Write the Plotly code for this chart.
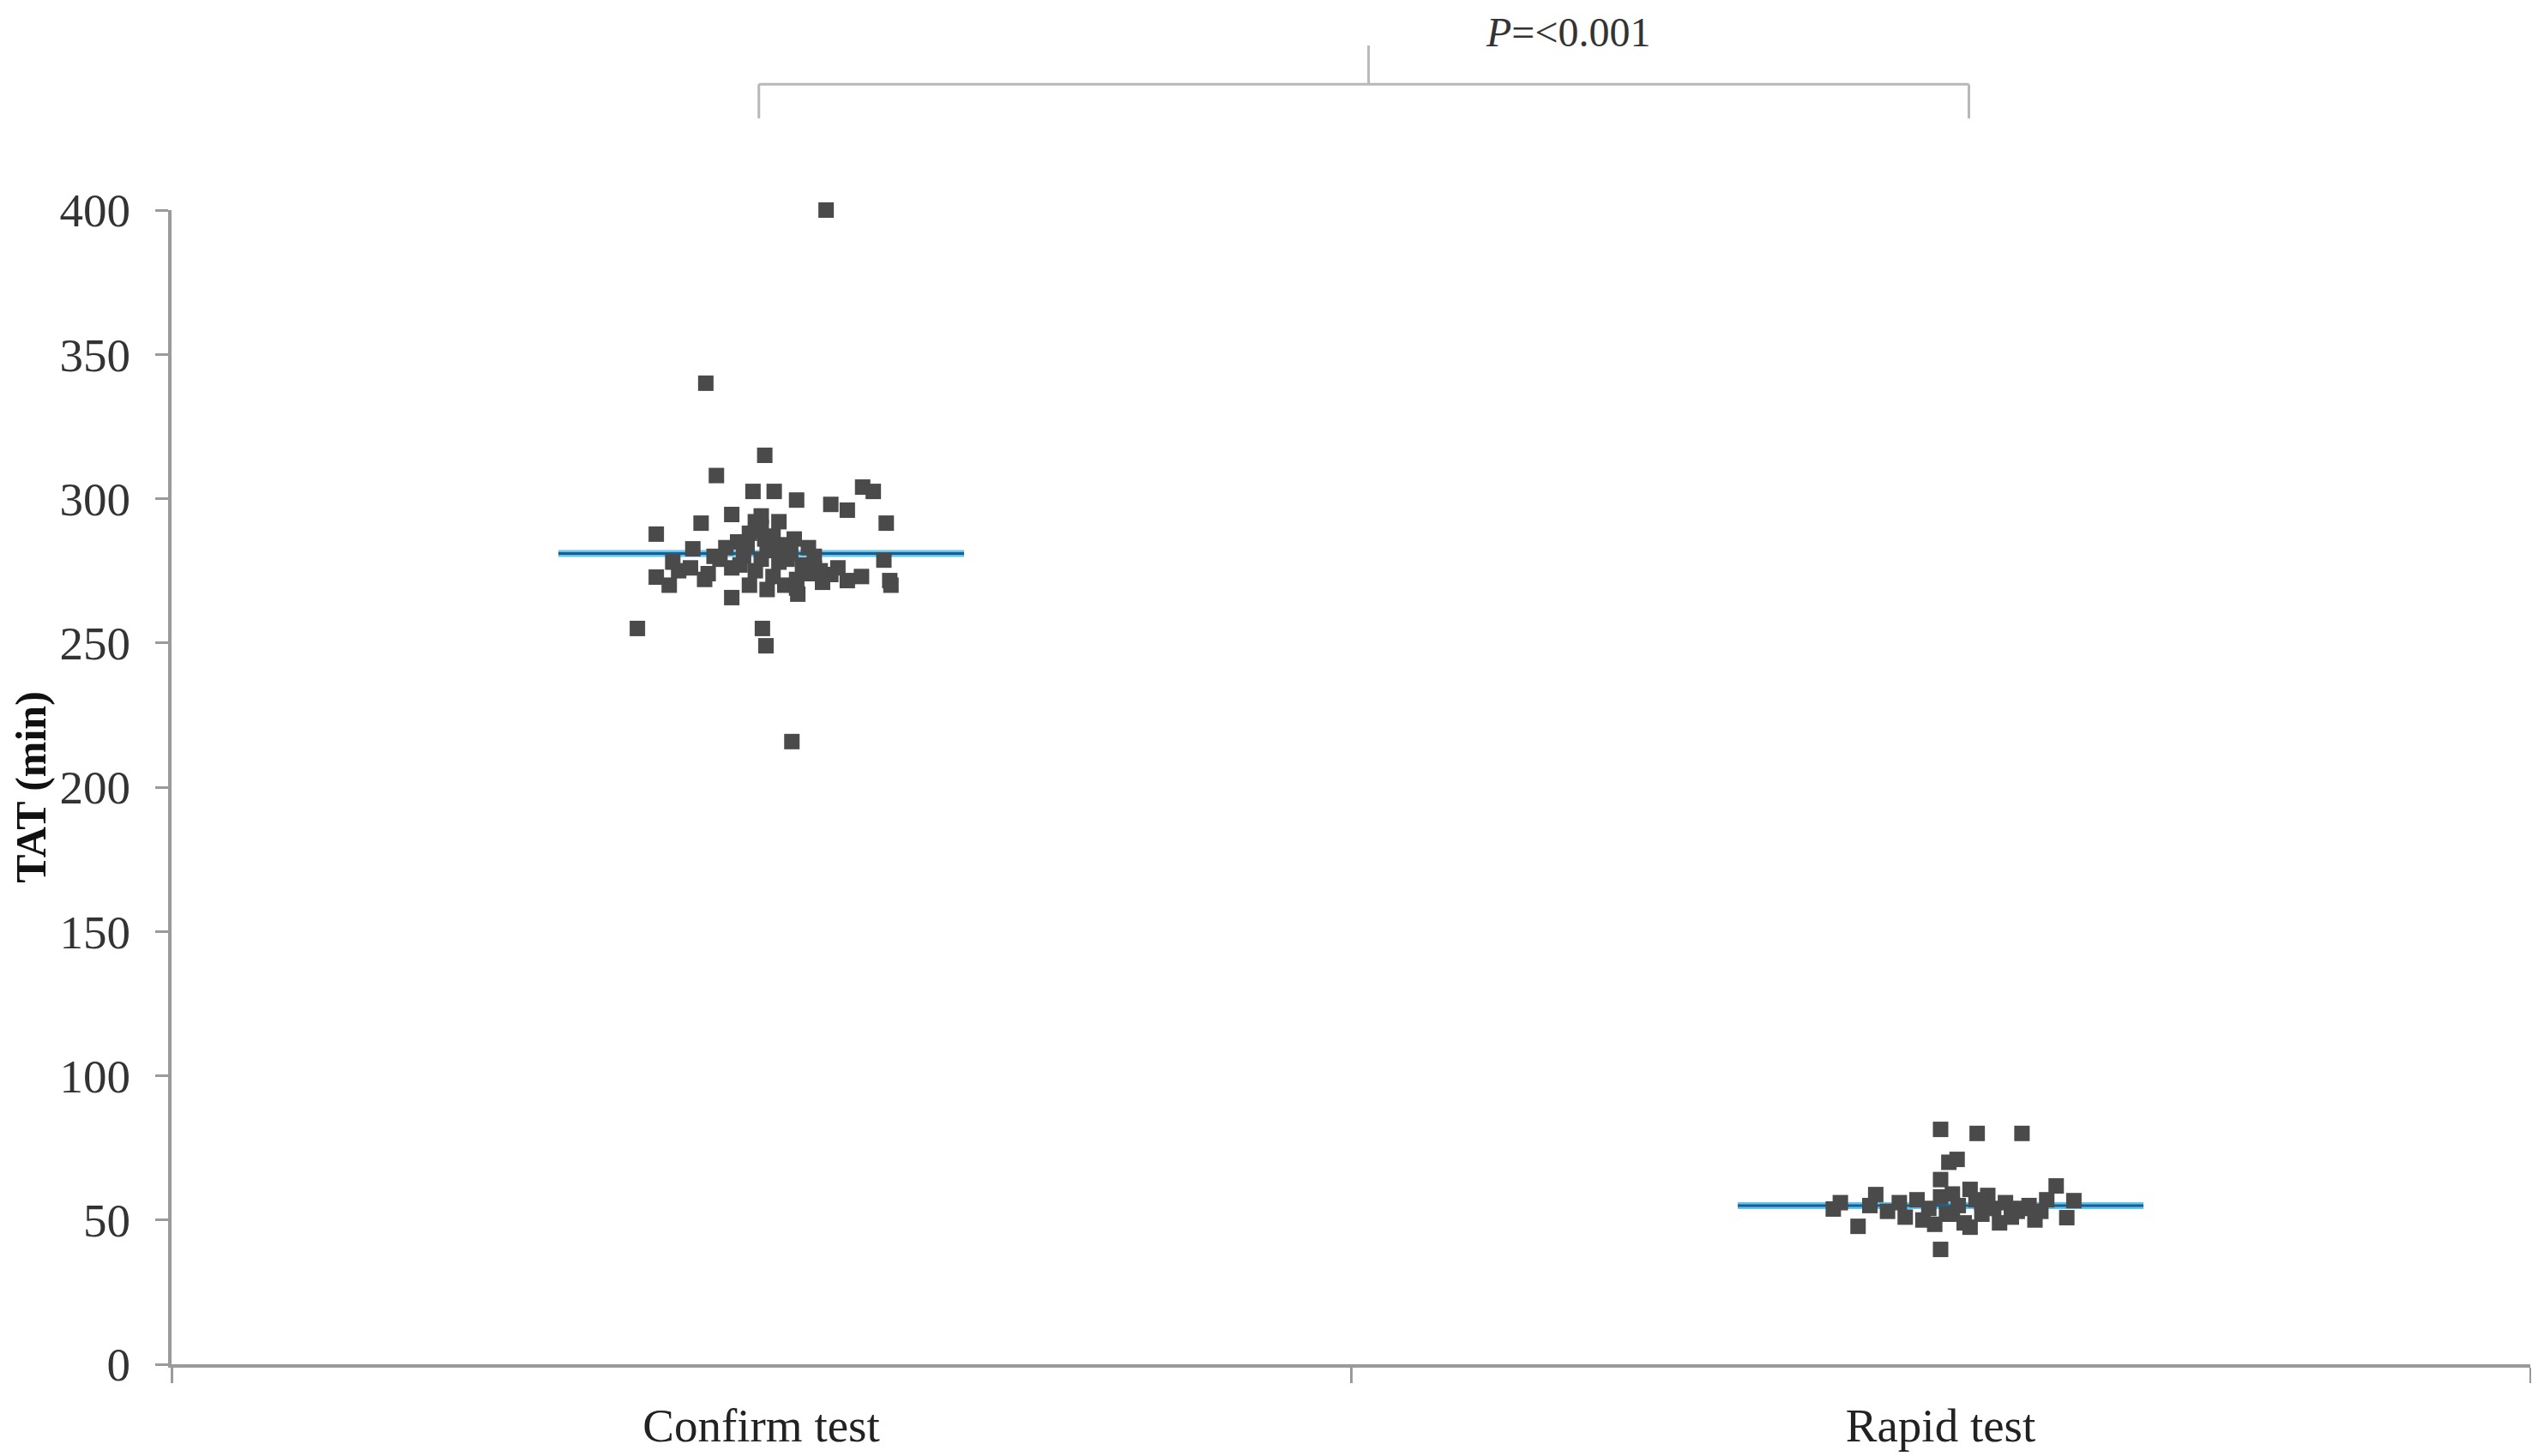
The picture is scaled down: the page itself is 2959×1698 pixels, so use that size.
import plotly.graph_objects as go

# ---------------- data ----------------
categories = ["Confirm test", "Rapid test"]

confirm_tat = [400, 340, 315, 308, 302.5, 302.5, 299.5, 304, 302.5, 298, 296, 294.5,
               291.5, 291.5, 287.7, 294,
               282.6, 278, 276, 272.8, 275, 274, 279,
               265.7, 266.9, 273.7, 271.6, 278.7, 271.6, 273, 276, 255, 255, 249, 215.8,
               270, 270,
               285, 288, 290, 287, 284, 280, 282, 278, 281, 277, 276, 275, 273, 270, 272,
               270, 279, 283, 283, 268.5, 292, 292, 280, 275, 280, 286, 289, 283, 277,
               274, 271, 269, 276, 284, 279, 272, 286]
confirm_jitter = [0.055, -0.047, 0.003, -0.038, -0.007, 0.011, 0.030, 0.086, 0.095, 0.059, 0.073, -0.025,
                  -0.051, 0.106, -0.089, 0.000,
                  -0.058, -0.075, -0.060, -0.089, -0.070, -0.045, -0.035,
                  -0.025, 0.031, 0.059, 0.073, 0.104, 0.109, 0.085, 0.045, -0.105, 0.001, 0.004, 0.026,
                  -0.078, 0.110,
                  -0.020, -0.010, 0.000, 0.010, 0.020, -0.015, 0.005, 0.015, 0.025, 0.035, -0.025, -0.005, 0.010, 0.020, 0.030,
                  -0.010, 0.000, 0.040, -0.030, 0.005, 0.015, -0.005, 0.045, 0.050, -0.040, 0.003, -0.002, 0.012, -0.018,
                  0.040, 0.052, 0.030, 0.065, -0.012, 0.022, -0.048, 0.028]

rapid_tat = [81.4, 80, 80, 71, 70, 64, 60.6, 61.8, 39.8, 53.8, 47.8, 58.8, 50.8, 56.7, 56, 53, 56, 51,
             57, 54, 58, 52, 55, 49, 57, 52, 54, 49, 56, 51, 53, 55, 53, 50, 48.5, 59, 47.5, 58.5, 57, 50,
             55, 52, 56, 54]
rapid_jitter = [0.000, 0.031, 0.069, 0.014, 0.007, 0.000, 0.025, 0.098, 0.000, -0.091, -0.070, -0.055, 0.107, 0.113,
                -0.085, -0.045, -0.035, -0.030,
                -0.020, -0.010, 0.000, 0.005, 0.015, 0.020, 0.030, 0.035, 0.045, 0.050, 0.055, 0.060, 0.065, 0.075,
                0.085, -0.015, -0.005, 0.010, 0.025, 0.040, 0.090, 0.080, -0.060, 0.010, 0.035, 0.068]

group_means = [281, 55]
y_ticks = [0, 50, 100, 150, 200, 250, 300, 350, 400]
p_label = "<i>P</i>=&lt;0.001"
y_title = "<b>TAT (min)</b>"

# ---------------- styles ----------------
SERIF = "Liberation Serif, Times New Roman, serif"
AXIS_GRAY = "#9a9a9a"
MARKER_GRAY = "#4a4a4a"
HALF = 0.172

fig = go.Figure()

# dummy trace registering categories on the category axis
fig.add_trace(go.Scatter(x=categories, y=[None, None], mode="markers",
                         showlegend=False, hoverinfo="skip", xaxis="x", yaxis="y"))

# mean lines
for i, m in enumerate(group_means):
    fig.add_trace(go.Scatter(x=[i - HALF, i + HALF], y=[m, m], mode="lines",
                             line=dict(color="#62c4f0", width=8),
                             showlegend=False, hoverinfo="skip", xaxis="x2", yaxis="y"))
    fig.add_trace(go.Scatter(x=[i - HALF, i + HALF], y=[m, m], mode="lines",
                             line=dict(color="#1b5e8c", width=3),
                             showlegend=False, hoverinfo="skip", xaxis="x2", yaxis="y"))

# points
for i, (vals, jit) in enumerate([(confirm_tat, confirm_jitter), (rapid_tat, rapid_jitter)]):
    fig.add_trace(go.Scatter(x=[i + j for j in jit], y=vals, mode="markers",
                             marker=dict(symbol="square", size=18, color=MARKER_GRAY,
                                         line=dict(width=0)),
                             cliponaxis=False,
                             showlegend=False, xaxis="x2", yaxis="y"))

# significance bracket
bracket_color = "#b8b8b8"
bx0, bx1, bmid = -0.002, 1.024, 0.515
by, by_end, by_top = 1.109, 1.0795, 1.1426
for (x0, y0, x1, y1) in [(bx0, by, bx1, by), (bx0, by, bx0, by_end), (bx1, by, bx1, by_end),
                         (bmid, by, bmid, by_top)]:
    fig.add_shape(type="line", xref="x2", yref="paper", x0=x0, y0=y0, x1=x1, y1=y1,
                  line=dict(color=bracket_color, width=3))

fig.add_annotation(x=0.684, y=1.1745, xref="x2", yref="paper", text=p_label,
                   showarrow=False, font=dict(family=SERIF, size=48, color="#333333"),
                   xanchor="center", yanchor="top", borderpad=0)

fig.update_layout(
    width=2951, height=1690,
    margin=dict(l=192, r=9, t=237, b=107),
    paper_bgcolor="white", plot_bgcolor="white",
    showlegend=False,
    xaxis=dict(type="category", categoryorder="array", categoryarray=categories,
               range=[-0.5, 1.5], tickson="boundaries", ticks="outside", ticklen=18,
               tickwidth=3, tickcolor=AXIS_GRAY, showline=True, linecolor=AXIS_GRAY,
               linewidth=4, showgrid=False, zeroline=False, ticklabelstandoff=20,
               automargin=False,
               tickfont=dict(family=SERIF, size=55, color="#222222")),
    xaxis2=dict(overlaying="x", anchor="y", range=[-0.5, 1.5], visible=False),
    yaxis=dict(range=[0, 400], tickvals=y_ticks, ticks="outside", ticklen=15,
               tickwidth=3, tickcolor=AXIS_GRAY, showline=True, linecolor=AXIS_GRAY,
               linewidth=4, showgrid=False, zeroline=False, ticklabelstandoff=18,
               automargin=False,
               tickfont=dict(family=SERIF, size=55, color="#333333"),
               title=dict(text=y_title, font=dict(family=SERIF, size=50, color="#111111"),
                          standoff=23)),
)

fig.write_html("out.html")
